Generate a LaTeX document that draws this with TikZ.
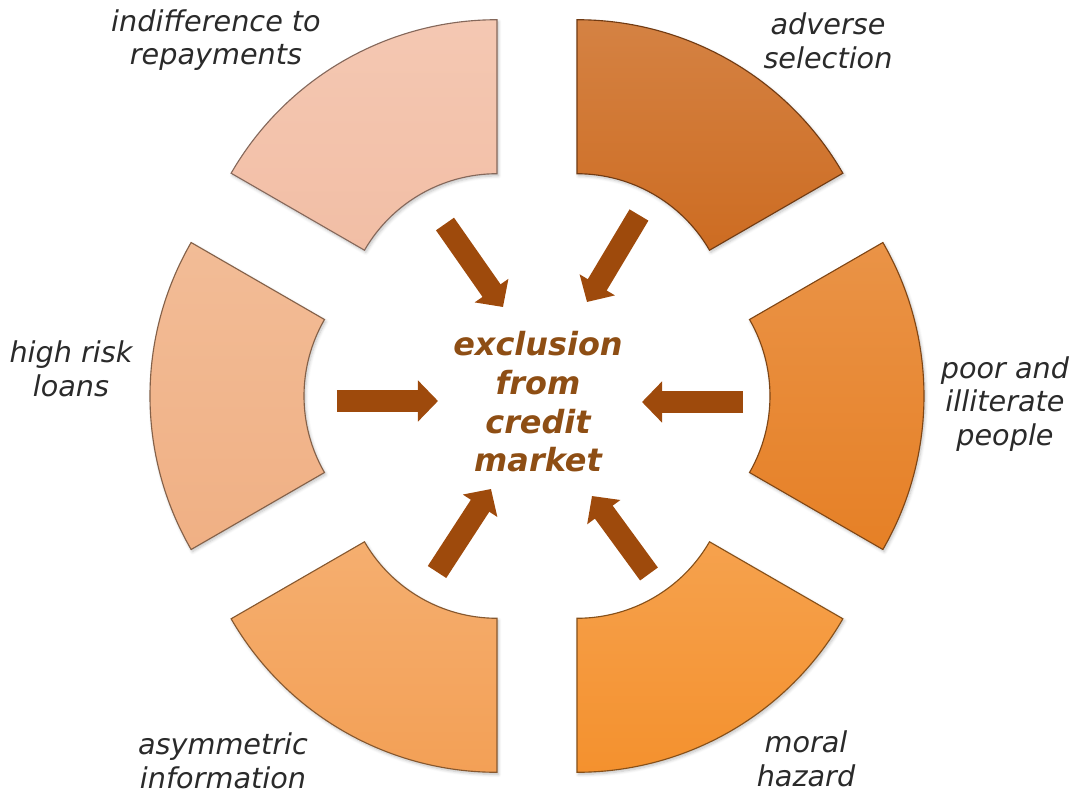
\documentclass[tikz,border=0pt]{standalone}
\usepackage{fontspec}
\setmainfont{DejaVu Sans}
\usetikzlibrary{arrows.meta,shadows.blur}
\definecolor{poorc}{RGB}{230,128,38}
\definecolor{adversec}{RGB}{205,108,34}
\definecolor{indiffc}{RGB}{242,190,165}
\definecolor{riskc}{RGB}{240,176,132}
\definecolor{asymc}{RGB}{243,160,86}
\definecolor{moralc}{RGB}{244,145,46}
\definecolor{arrowbrown}{RGB}{158,74,12}
\definecolor{hubtext}{RGB}{142,78,20}
\definecolor{labeltext}{RGB}{42,42,42}
\tikzset{
  segment/.style={draw=#1!55!black, line width=0.8pt, top color=#1!85!white, bottom color=#1,
    blur shadow={shadow blur steps=6, shadow xshift=1pt, shadow yshift=-1.5pt, shadow opacity=25}},
  push/.style={draw=arrowbrown, line width=0.55cm, -{Triangle[width=1cm,length=0.5cm]}},
  cause/.style={font=\fontsize{20.4}{24}\selectfont\itshape, text=labeltext, align=center},
  hub/.style={font=\fontsize{22.7}{27.5}\selectfont\bfseries\itshape, text=hubtext, align=center}
}
\begin{document}
\begin{tikzpicture}
\useasboundingbox (-13.425,-9.95) rectangle (13.45,9.9);
\foreach \a/\c in {0/poorc,60/adversec,120/indiffc,180/riskc,240/asymc,300/moralc}
  \draw[segment=\c, shift={(\a:2)}] (\a-30:3.825) arc[start angle=\a-30, end angle=\a+30, radius=3.825]
    -- (\a+30:7.675) arc[start angle=\a+30, end angle=\a-30, radius=7.675] -- cycle;
\node[hub] (hub) at (0.025,-0.15) {exclusion\\from\\credit\\market};
\node[cause] (indiff) at (-8.025,8.9) {indifference to\\repayments};
\node[cause] (adverse) at (7.275,8.875) {adverse\\selection};
\node[cause] (risk) at (-11.65,0.675) {high risk\\loans};
\node[cause] (poor) at (11.7,-0.2) {poor and\\illiterate\\people};
\node[cause] (asym) at (-7.85,-9.125) {asymmetric\\information};
\node[cause] (moral) at (6.725,-9.075) {moral\\hazard};
\foreach \n/\tx/\ty/\hx/\hy in {tl/-2.3/4.3/-0.85/2.225, tr/2.55/4.525/1.25/2.35,
    l/-5.0/-0.125/-2.475/-0.125, r/5.15/-0.15/2.625/-0.15,
    bl/-2.5/-4.4/-1.15/-2.325, br/2.8/-4.45/1.375/-2.5} {
  \coordinate (tail\n) at (\tx,\ty);
  \coordinate (tip\n) at (\hx,\hy);
  \draw[push] (tail\n) -- (tip\n);
}
\end{tikzpicture}
\end{document}
